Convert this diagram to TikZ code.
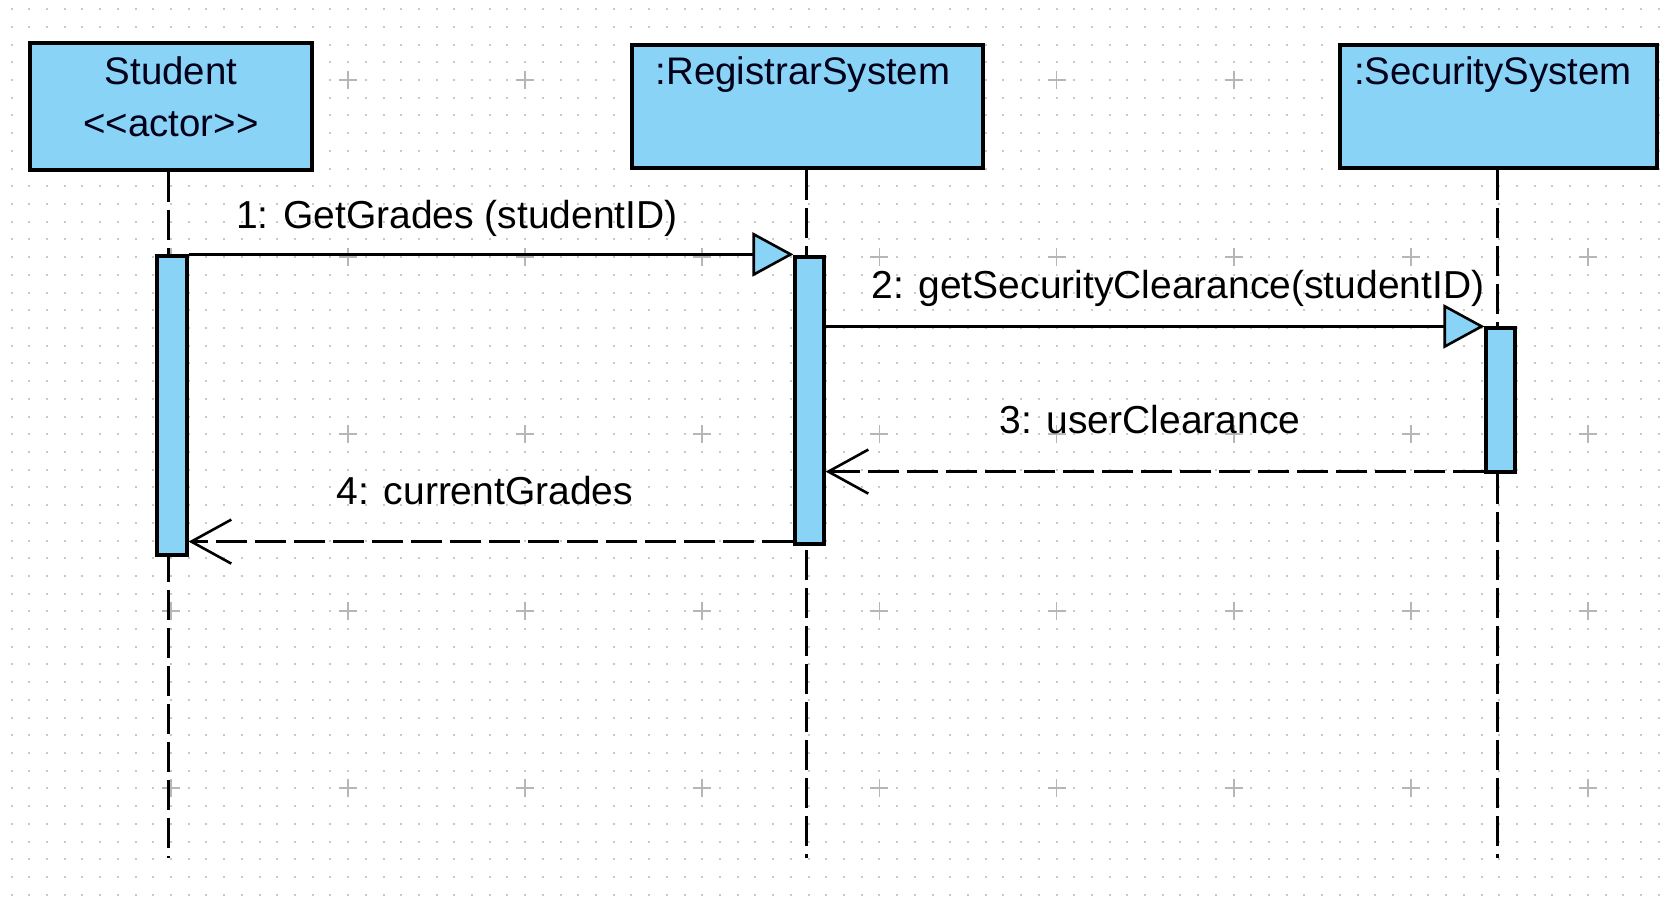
\documentclass[tikz,border=0pt]{standalone}
\usepackage{fontspec}
\setmainfont{Liberation Sans}
\usetikzlibrary{arrows.meta}
\definecolor{umlblue}{RGB}{137,211,247}
\definecolor{gridgray}{RGB}{200,200,200}
\definecolor{plusgray}{RGB}{182,182,182}
\begin{document}
\begin{tikzpicture}[x=0.5pt,y=-0.5pt,
  objbox/.style={draw=black, line width=2pt, fill=umlblue, inner sep=0pt},
  actbar/.style={draw=black, line width=1.6pt, fill=umlblue, inner sep=0pt},
  boxlabel/.style={anchor=base, inner sep=0pt, font=\fontsize{19.2}{23}\selectfont, text=black!90!blue},
  msglabel/.style={anchor=base, inner sep=0pt, font=\fontsize{19.5}{23}\selectfont},
  lifeline/.style={line width=1.5pt, dash pattern=on 15pt off 4pt},
  call/.style={line width=1.3pt, -{Triangle[length=20.5pt, width=22pt, fill=umlblue]}},
  reply/.style={line width=1.3pt, dash pattern=on 15.5pt off 4pt, -{Straight Barb[length=20pt, width=22pt]}}]
\useasboundingbox (0,0) rectangle (1668,899);
\fill[white] (0,0) rectangle (1668,899);

% dotted drawing grid
\foreach \r in {0,...,50} {
  \pgfmathsetmacro\yy{9.2+17.71*\r}
  \draw[gridgray, line width=1pt, dash pattern=on 1pt off 7.855pt] (10.6,\yy) -- (1668,\yy);
}
% grid crosses
\foreach \i in {0,...,8} {
  \foreach \j in {0,...,4} {
    \pgfmathsetmacro\px{171+177.1*\i}
    \pgfmathsetmacro\py{80+177*\j}
    \draw[plusgray, line width=0.9pt] (\px-9,\py) -- (\px+9,\py) (\px,\py-9) -- (\px,\py+9);
  }
}

% lifeline heads
\node[objbox, minimum width=141pt, minimum height=63.5pt] (student) at (171,106.5) {};
\node[objbox, minimum width=175.5pt, minimum height=61.5pt] (registrar) at (807.5,106.5) {};
\node[objbox, minimum width=158.5pt, minimum height=61.5pt] (security) at (1498.5,106.5) {};

\node[boxlabel] (studentName) at (171,85) {Student};
\node[boxlabel] (studentStereo) at (171,136) {{<}{<}actor{>}{>}};
\node[boxlabel] (registrarName) at (803,84) {:RegistrarSystem};
\node[boxlabel] (securityName) at (1493,85) {:SecuritySystem};

% lifelines
\coordinate (studentEnd) at (168,858);
\coordinate (registrarEnd) at (806,858);
\coordinate (securityEnd) at (1497,858);
\draw[lifeline] (studentEnd |- student.south) -- (studentEnd);
\draw[lifeline] (registrarEnd |- registrar.south) -- (registrarEnd);
\draw[lifeline] (securityEnd |- security.south) -- (securityEnd);

% activation bars
\node[actbar, minimum width=15pt, minimum height=149.5pt] (studentBar) at (172,405.5) {};
\node[actbar, minimum width=14.5pt, minimum height=143.5pt] (registrarBar) at (809.5,400.5) {};
\node[actbar, minimum width=14.5pt, minimum height=72pt] (securityBar) at (1500.5,400) {};

% messages
\draw[call] (studentBar.north east) -- (studentBar.north east -| registrarBar.west);
\node[msglabel] (m1) at (457,228) {1: GetGrades (studentID)};

\draw[call] (registrarBar.east |- securityBar.north) -- (securityBar.north west);
\node[msglabel] (m2) at (1178,298) {2: getSecurityClearance(studentID)};

\draw[reply] ([yshift=1pt]securityBar.south west) -- ([yshift=1pt]securityBar.south west -| registrarBar.east);
\node[msglabel] (m3) at (1150,433) {3: userClearance};

\draw[reply] ([yshift=2pt]registrarBar.south west) -- ([yshift=2pt]registrarBar.south west -| studentBar.east);
\node[msglabel] (m4) at (485,504) {4: currentGrades};
\end{tikzpicture}
\end{document}
